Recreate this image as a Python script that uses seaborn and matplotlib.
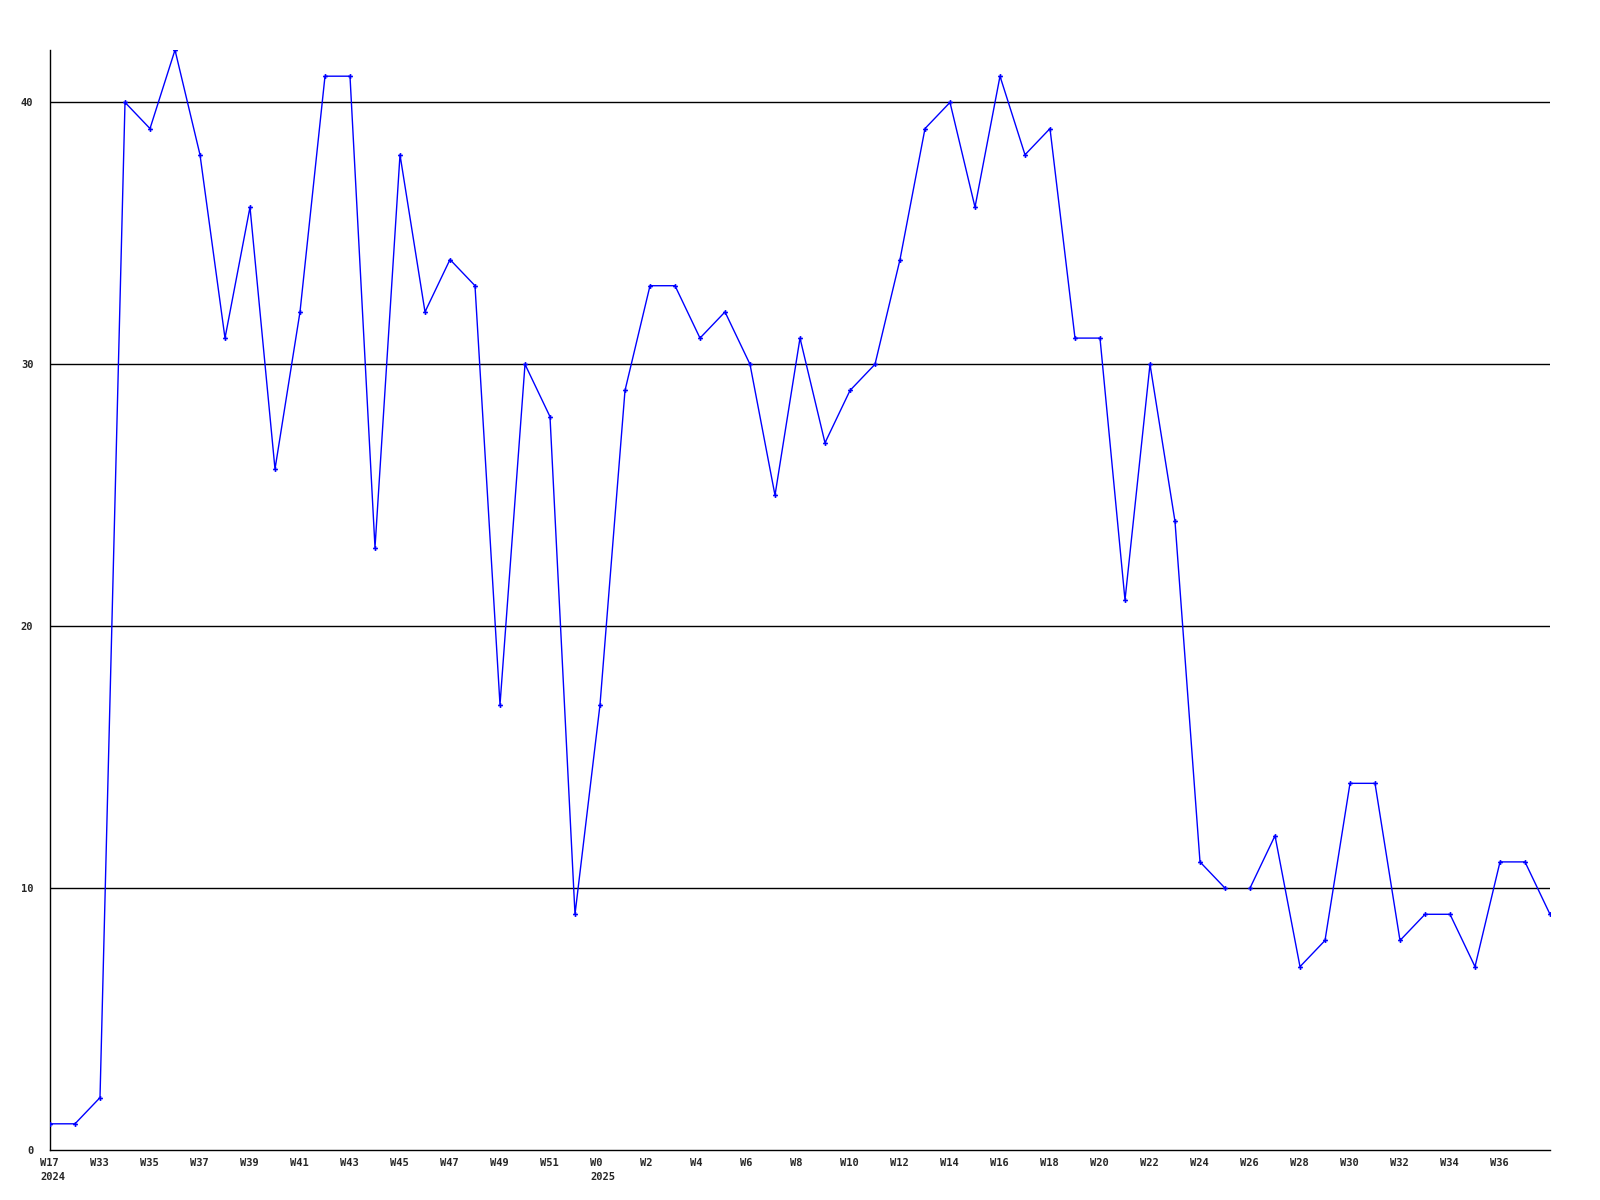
import matplotlib
matplotlib.use("Agg")
import matplotlib.pyplot as plt
import matplotlib.transforms as mtransforms
import seaborn as sns
import pandas as pd
import numpy as np

# Weekly counts, one value per week (61 points)
values = [1, 1, 2, 40, 39, 42, 38, 31, 36, 26,
          32, 41, 41, 23, 38, 32, 34, 33, 17, 30,
          28, 9, 17, 29, 33, 33, 31, 32, 30, 25,
          31, 27, 29, 30, 34, 39, 40, 36, 41, 38,
          39, 31, 31, 21, 30, 24, 11, 10, 10, 12,
          7, 8, 14, 14, 8, 9, 9, 7, 11, 11, 9]

# the line is broken between these two points (index of the last point before the break)
break_after = 47

tick_labels = (["W17\n2024"] + ["W%d" % w for w in range(33, 52, 2)]
               + ["W0\n2025"] + ["W%d" % w for w in range(2, 37, 2)])
y_ticks = [0, 10, 20, 30, 40]

df = pd.DataFrame({"pos": np.arange(len(values)), "count": values})
seg1 = df[df["pos"] <= break_after]
seg2 = df[df["pos"] > break_after]

sns.set_style("white")
plt.rcParams["font.family"] = ["DejaVu Sans Mono", "DejaVu Sans"]

fig = plt.figure(figsize=(16, 12), dpi=100)
ax = fig.add_axes([50 / 1600, 50 / 1200, 1500 / 1600, 1100 / 1200])

# grid lines behind the data
for y in y_ticks[1:]:
    ax.axhline(y, color="black", lw=1, zorder=1)

for seg in (seg1, seg2):
    sns.lineplot(data=seg, x="pos", y="count", ax=ax, color="#0000ff", lw=1,
                 marker="P", markersize=3.5, markeredgewidth=0, zorder=3)

ax.set_xlim(0, len(values) - 1)
ax.set_ylim(0, 42)
ax.set_xlabel("")
ax.set_ylabel("")

ax.set_yticks(y_ticks)
ax.set_yticklabels([str(v) for v in y_ticks], fontsize=7.5, fontweight="bold")
ax.set_xticks(np.arange(0, len(values) - 1, 2))
ax.set_xticklabels(tick_labels, fontsize=7.5, fontweight="bold", ha="left",
                   multialignment="left", linespacing=1.5)
ax.tick_params(axis="both", length=0)
ax.tick_params(axis="y", pad=12)
ax.tick_params(axis="x", pad=6)

# shift x labels so they start slightly left of their point
offset = mtransforms.ScaledTranslation(-10 / 100, 0, fig.dpi_scale_trans)
for lbl in ax.get_xticklabels():
    lbl.set_transform(lbl.get_transform() + offset)

for side in ("top", "right"):
    ax.spines[side].set_visible(False)
for side in ("left", "bottom"):
    ax.spines[side].set_color("black")
    ax.spines[side].set_linewidth(1)

fig.savefig("out.png", dpi=100, facecolor="white")
